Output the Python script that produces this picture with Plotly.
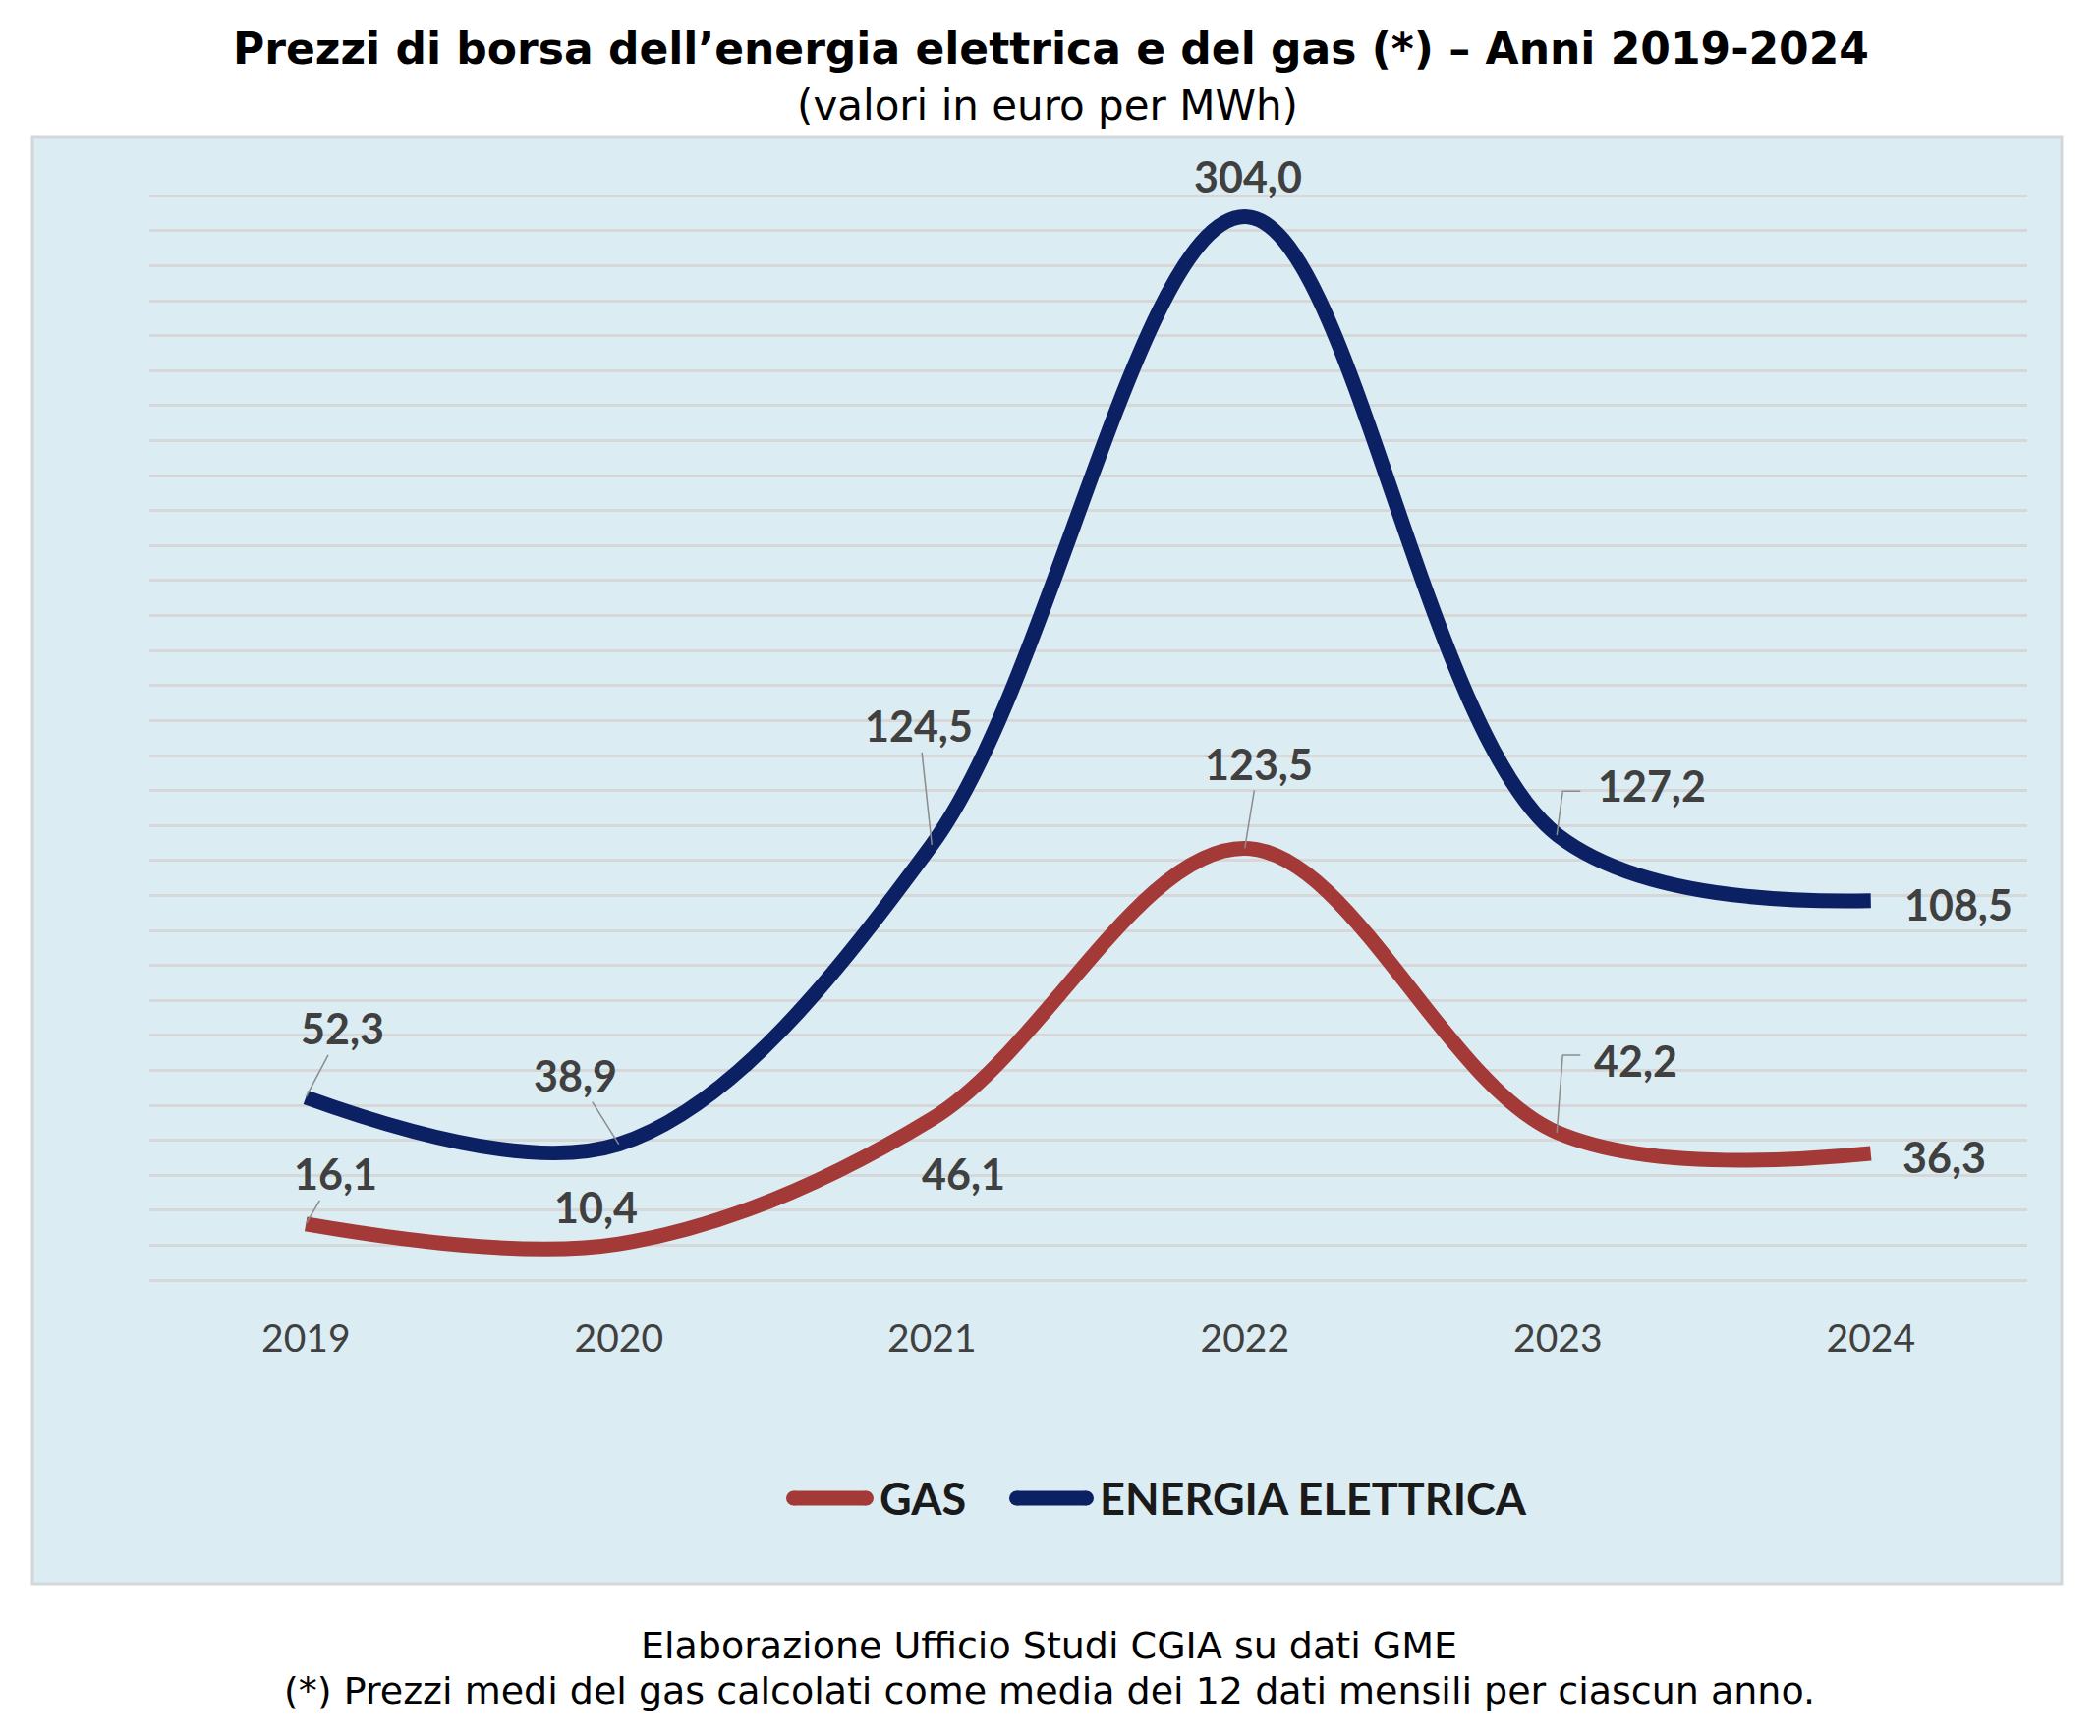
import plotly.graph_objects as go

# ---------------- data ----------------
years = ["2019", "2020", "2021", "2022", "2023", "2024"]
gas = [16.1, 10.4, 46.1, 123.5, 42.2, 36.3]
elettrica = [52.3, 38.9, 124.5, 304.0, 127.2, 108.5]
series_names = ["GAS", "ENERGIA ELETTRICA"]

title_text = "Prezzi di borsa dell’energia elettrica e del gas (*) – Anni 2019-2024"
subtitle_text = "(valori in euro per MWh)"
footer_1 = "Elaborazione Ufficio Studi CGIA su dati GME"
footer_2 = "(*) Prezzi medi del gas calcolati come media dei 12 dati mensili per ciascun anno."

# label placement (pixel offsets from the point; leader style)
gas_offsets = [(30, -51, "line"), (-23, -38, None), (32, 55, None),
               (14, -86, "line"), (79, -73, "bracket"), (75, 4, None)]
el_offsets = [(37, -70, "line"), (-44, -70, "line"), (-13, -121, "line"),
              (3, -41, None), (96, -51, "bracket"), (89, 4, None)]

# ---------------- layout geometry ----------------
W, H = 2137, 1767
L, R, T, B = 152, 74, 128, 446
PW = W - L - R
PH = H - T - B


def px(x):
    return (x - L) / PW


def py(y):
    return (H - B - y) / PH


GAS_COLOR = "#a33a37"
EL_COLOR = "#0b2163"
LABEL_COLOR = "#404040"
LEADER_COLOR = "#8c8c8c"
LINE_W = 15

fig = go.Figure()
fig.add_trace(go.Scatter(x=years, y=gas, mode="lines", name=series_names[0],
                         line=dict(color=GAS_COLOR, width=LINE_W, shape="spline", smoothing=1.0),
                         cliponaxis=False, showlegend=False))
fig.add_trace(go.Scatter(x=years, y=elettrica, mode="lines", name=series_names[1],
                         line=dict(color=EL_COLOR, width=LINE_W, shape="spline", smoothing=1.0),
                         cliponaxis=False, showlegend=False))


def fmt(v):
    return f"{v:.1f}".replace(".", ",")


annotations = []
shapes = []

# chart box
shapes.append(dict(type="rect", xref="paper", yref="paper", layer="below",
                   x0=px(33), x1=px(2098), y0=py(1612), y1=py(139),
                   line=dict(color="#d3d7d9", width=3), fillcolor="#dbecf2"))

for vals, offs in ((gas, gas_offsets), (elettrica, el_offsets)):
    for i, (v, (ax, ay, lead)) in enumerate(zip(vals, offs)):
        annotations.append(dict(
            x=i, y=v, xref="x", yref="y", text=fmt(v),
            showarrow=True, arrowhead=0, arrowwidth=1.5,
            arrowcolor=LEADER_COLOR if lead == "line" else "rgba(0,0,0,0)",
            ax=ax, ay=ay, standoff=0,
            font=dict(family="Lato", size=43, color=LABEL_COLOR, weight="bold")))
        if lead == "bracket":
            top = -ay + 6 if ay < -60 else -ay - 6
            shapes.append(dict(type="path", xref="x", yref="y",
                               xsizemode="pixel", ysizemode="pixel",
                               xanchor=i, yanchor=v,
                               path=f"M -1,0 L 5,{top} L 23,{top}",
                               line=dict(color=LEADER_COLOR, width=1.5)))

# manual legend (thick swatch with rounded ends)
leg_y = py(1525)
SW = 15
for (x0, x1, tx), name, col in (((800, 889, 893), series_names[0], GAS_COLOR),
                                ((1027, 1113, 1117), series_names[1], EL_COLOR)):
    shapes.append(dict(type="line", xref="paper", yref="paper",
                       x0=px(x0 + SW / 2), x1=px(x1 - SW / 2), y0=leg_y, y1=leg_y,
                       line=dict(color=col, width=SW)))
    for xe in (x0 + SW / 2, x1 - SW / 2):
        shapes.append(dict(type="circle", xref="paper", yref="paper",
                           xsizemode="pixel", ysizemode="pixel",
                           xanchor=px(xe), yanchor=leg_y,
                           x0=-SW / 2, x1=SW / 2, y0=-SW / 2, y1=SW / 2,
                           fillcolor=col, line=dict(width=0)))
    annotations.append(dict(x=px(tx), y=leg_y, xref="paper", yref="paper",
                            xanchor="left", yanchor="middle", showarrow=False,
                            text=name,
                            font=dict(family="Lato", size=45, color="#1a1a1a", weight="bold")))

# titles & footer
annotations.append(dict(x=px(1069), y=py(49), xref="paper", yref="paper",
                        xanchor="center", yanchor="middle", showarrow=False,
                        text=f"<b>{title_text}</b>",
                        font=dict(family="DejaVu Sans", size=44, color="#000000")))
annotations.append(dict(x=px(1066), y=py(107), xref="paper", yref="paper",
                        xanchor="center", yanchor="middle", showarrow=False,
                        text=subtitle_text,
                        font=dict(family="DejaVu Sans", size=42, color="#000000")))
annotations.append(dict(x=px(1067), y=py(1675), xref="paper", yref="paper",
                        xanchor="center", yanchor="middle", showarrow=False,
                        text=footer_1,
                        font=dict(family="DejaVu Sans", size=38, color="#000000")))
annotations.append(dict(x=px(1068), y=py(1721), xref="paper", yref="paper",
                        xanchor="center", yanchor="middle", showarrow=False,
                        text=footer_2,
                        font=dict(family="DejaVu Sans", size=38, color="#000000")))

fig.update_layout(
    width=W, height=H,
    margin=dict(l=L, r=R, t=T, b=B, pad=0),
    paper_bgcolor="#ffffff",
    plot_bgcolor="rgba(0,0,0,0)",
    showlegend=False,
    annotations=annotations,
    shapes=shapes,
    xaxis=dict(type="category", range=[-0.5, 5.5], showgrid=False, zeroline=False,
               showline=False, ticks="outside", ticklen=7, tickcolor="rgba(0,0,0,0)",
               tickfont=dict(family="Lato", size=39, color=LABEL_COLOR)),
    yaxis=dict(range=[-5, 330], tickvals=list(range(0, 311, 10)), showticklabels=False,
               showgrid=True, gridcolor="#d5d7d9", gridwidth=2.5, zeroline=False,
               showline=False, ticks=""),
)

fig.write_html("out.html")
